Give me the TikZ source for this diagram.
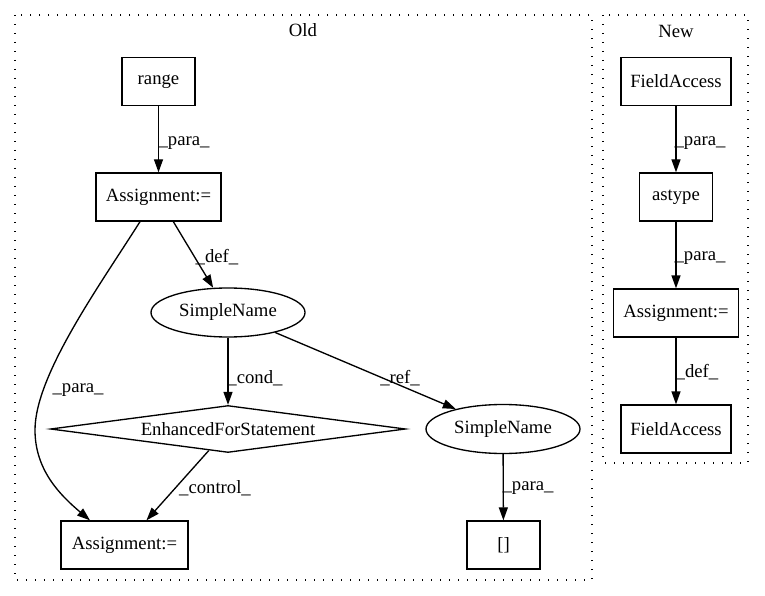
\documentclass[tikz,border=0pt]{standalone}
\usepackage{fontspec}
\setmainfont{Liberation Serif}
\usetikzlibrary{shapes.geometric,arrows.meta}
\tikzset{
  every node/.style={font=\fontsize{18.7}{22}\selectfont},
  box/.style={draw,line width=1.33pt,rectangle,minimum height=48pt,inner sep=0pt},
  ell/.style={draw,line width=1.33pt,ellipse,minimum width=154pt,minimum height=49pt,inner sep=0pt},
  dia/.style={draw,line width=1.33pt,diamond,aspect=7.55,minimum width=355pt,minimum height=47pt,inner sep=0pt},
  cluster/.style={draw,line width=1.3pt,dash pattern=on 1.4pt off 7.6pt},
  edge/.style={line width=1.33pt,-{Triangle[length=13pt,width=9pt]}},
  elab/.style={inner sep=0pt},
}
\begin{document}
\begin{tikzpicture}[x=1pt,y=-1pt]
\useasboundingbox (0,0) rectangle (765,596);
% clusters
\draw[cluster] (15,15) rectangle (592,580);
\draw[cluster] (603,15) rectangle (748,463);
\node (oldlab) at (303,30) {Old};
\node (newlab) at (676,31) {New};
% old nodes
\node[box,minimum width=73pt] (range) at (158.5,81.5) {range};
\node[box,minimum width=125pt] (a1) at (158.5,197) {Assignment:=};
\node[ell] (s1) at (228,312.5) {SimpleName};
\node[dia] (d) at (228,429) {EnhancedForStatement};
\node[ell] (s2) at (503,429) {SimpleName};
\node[box,minimum width=127pt] (a2) at (124.5,545) {Assignment:=};
\node[box,minimum width=73pt] (b) at (503.5,545) {[]};
% new nodes
\node[box,minimum width=110pt] (f1) at (676,81.5) {FieldAccess};
\node[box,minimum width=73pt] (ast) at (676,197) {astype};
\node[box,minimum width=125pt] (a3) at (676,313) {Assignment:=};
\node[box,minimum width=110pt] (f2) at (676,429) {FieldAccess};
% edges old
\draw[edge] (range) -- (a1);
\draw[edge] (a1) -- (s1);
\coordinate (bend) at (35,430);
\draw[edge] ([xshift=-18.5pt]a1.south) .. controls (100,285) and (35,375) .. (bend)
   .. controls (35,470) and (60,495) .. ([xshift=-34.5pt]a2.north);
\draw[edge] (s1) -- (d);
\draw[edge] (s1) -- (s2);
\draw[edge] (d) -- (a2);
\draw[edge] (s2) -- (b);
% edges new
\draw[edge] (f1) -- (ast);
\draw[edge] (ast) -- (a3);
\draw[edge] (a3) -- (f2);
% labels
\node[elab] (l1) at (184,143) {\_para\_};
\node[elab] (l2) at (217,257) {\_def\_};
\node[elab] (l3) at (78,390) {\_para\_};
\node[elab] (l4) at (255,378) {\_cond\_};
\node[elab] (l5) at (400,378) {\_ref\_};
\node[elab] (l6) at (215,488) {\_control\_};
\node[elab] (l7) at (528,488) {\_para\_};
\node[elab] (l8) at (700,143) {\_para\_};
\node[elab] (l9) at (700,258) {\_para\_};
\node[elab] (l10) at (697,372) {\_def\_};
\end{tikzpicture}
\end{document}
